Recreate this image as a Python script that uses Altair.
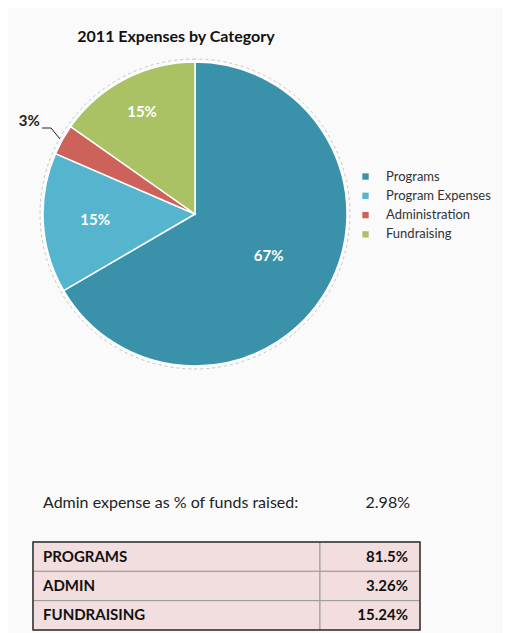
import altair as alt
import pandas as pd

# ---- data ----
title_text = "2011 Expenses by Category"
categories = ["Programs", "Program Expenses", "Administration", "Fundraising"]
values = [66.6, 14.9, 3.26, 15.24]
colors = ["#3A92AA", "#55B5CE", "#CD625B", "#AAC263"]

admin_ratio_label = "Admin expense as % of funds raised:"
admin_ratio_value = "2.98%"

table_rows = ["PROGRAMS", "ADMIN", "FUNDRAISING"]
table_values = ["81.5%", "3.26%", "15.24%"]

FONT = "Lato"
CX, CY, R = 187, 206, 152
label_radius = {"Programs": 85, "Program Expenses": 100, "Administration": 190, "Fundraising": 115}

pie_df = pd.DataFrame({"category": categories, "value": values,
                       "idx": list(range(len(categories)))})
table_df = pd.DataFrame({"row": table_rows, "val": table_values})
one = pd.DataFrame({"a": [0]})

base = alt.Chart(pie_df)

outline = base.mark_arc(outerRadius=R + 3, fillOpacity=0, stroke="#B8B8B8",
                        strokeWidth=0.8, strokeDash=[3, 3]).encode(
    theta=alt.Theta("sum(value):Q"),
    x=alt.value(CX), y=alt.value(CY))

arcs = base.mark_arc(outerRadius=R, stroke="white", strokeWidth=1.5).encode(
    theta=alt.Theta("value:Q", stack=True),
    order=alt.Order("idx:Q"),
    color=alt.Color("category:N", sort=categories,
                    scale=alt.Scale(domain=categories, range=colors),
                    legend=alt.Legend(title=None, orient="none", legendX=351, legendY=162,
                                      symbolType="square", symbolSize=40,
                                      symbolStrokeWidth=0, labelFont=FONT,
                                      labelFontSize=13, labelColor="#333",
                                      rowPadding=5.3, labelOffset=14)),
    x=alt.value(CX), y=alt.value(CY))

lab_base = base.transform_joinaggregate(total="sum(value)").transform_window(
    cum="sum(value)", sort=[alt.SortField("idx")], frame=[None, 0]
).transform_calculate(mid="datum.cum - datum.value / 2",
                      pct="datum.value / datum.total")

label_layers = []
for cat in categories:
    col = "#222" if cat == "Administration" else "white"
    label_layers.append(
        lab_base.transform_filter(alt.datum.category == cat).mark_text(
            font=FONT, fontSize=15, fontWeight="bold", color=col,
            radius=label_radius[cat]).encode(
            theta=alt.Theta("mid:Q", stack=None),
            text=alt.Text("pct:Q", format=".0%"),
            x=alt.value(CX), y=alt.value(CY)))

lead1 = alt.Chart(one).mark_rule(color="#222", strokeWidth=1).encode(
    x=alt.value(34), x2=alt.value(43), y=alt.value(120), y2=alt.value(120))
lead2 = alt.Chart(one).mark_rule(color="#222", strokeWidth=1).encode(
    x=alt.value(43), x2=alt.value(52), y=alt.value(120), y2=alt.value(131))

title = alt.Chart(one).mark_text(font=FONT, fontSize=16, fontWeight="bold",
                                 color="#111").encode(
    text=alt.value(title_text), x=alt.value(168), y=alt.value(29))

admin_l = alt.Chart(one).mark_text(font=FONT, fontSize=16, color="#222",
                                   align="left").encode(
    text=alt.value(admin_ratio_label), x=alt.value(35), y=alt.value(495))
admin_v = alt.Chart(one).mark_text(font=FONT, fontSize=16, color="#222",
                                   align="right").encode(
    text=alt.value(admin_ratio_value), x=alt.value(402), y=alt.value(495))

ysc = alt.Y("row:N", sort=table_rows, axis=None,
            scale=alt.Scale(range=[534, 622], paddingInner=0, paddingOuter=0))
tbase = alt.Chart(table_df)
cell_l = tbase.mark_rect(fill="#F2DEDE", stroke="#9A9A9A", strokeWidth=1).encode(
    y=ysc, x=alt.value(25), x2=alt.value(312))
cell_v = tbase.mark_rect(fill="#F2DEDE", stroke="#9A9A9A", strokeWidth=1).encode(
    y=ysc, x=alt.value(312), x2=alt.value(412))
border = alt.Chart(one).mark_rect(fillOpacity=0, stroke="#333", strokeWidth=1.5).encode(
    x=alt.value(25), x2=alt.value(412), y=alt.value(534), y2=alt.value(622))
txt_l = tbase.mark_text(font=FONT, fontSize=15, fontWeight="bold", color="#111",
                        align="left").encode(
    y=alt.Y("row:N", sort=table_rows, axis=None, bandPosition=0.5),
    x=alt.value(35), text="row:N")
txt_v = tbase.mark_text(font=FONT, fontSize=15, fontWeight="bold", color="#111",
                        align="right").encode(
    y=alt.Y("row:N", sort=table_rows, axis=None, bandPosition=0.5),
    x=alt.value(400), text="val:N")

chart = alt.layer(outline, arcs, *label_layers, lead1, lead2, title, admin_l, admin_v,
                  cell_l, cell_v, border, txt_l, txt_v).properties(
    width=495, height=625, padding=0, background="#FAFAFA"
).configure_view(stroke=None)

chart.save("out.html", embed_options={"renderer": "svg", "actions": False})
